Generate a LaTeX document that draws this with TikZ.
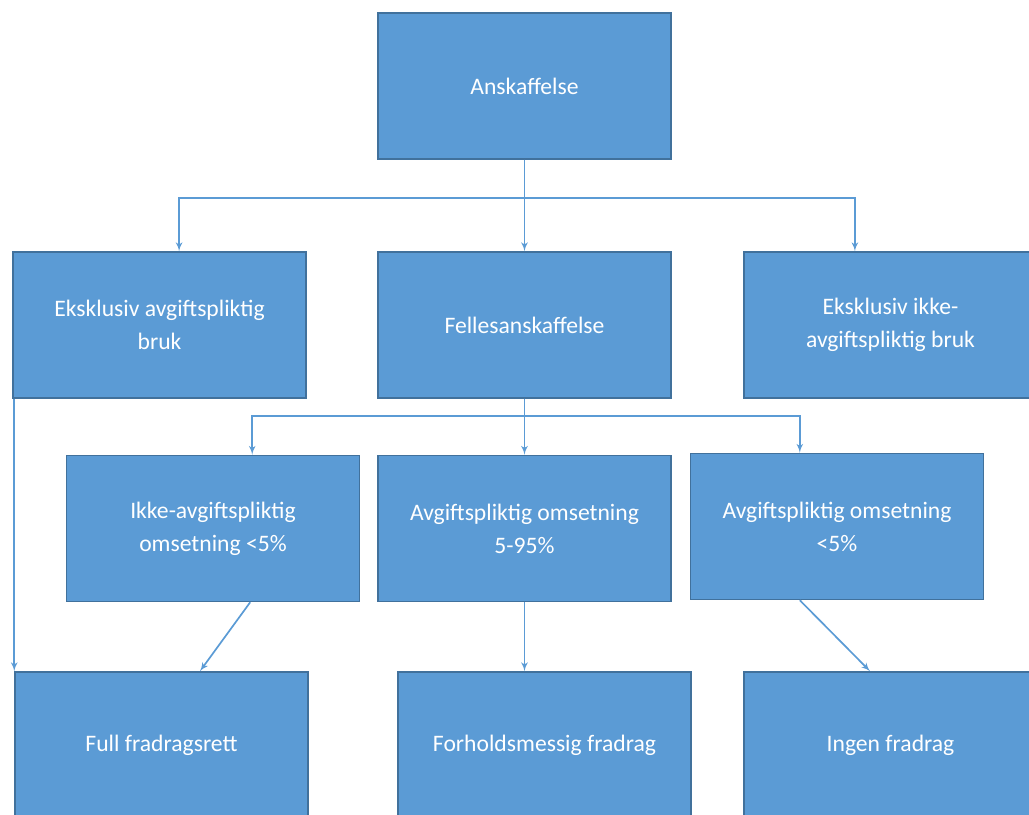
\documentclass[tikz,border=0pt]{standalone}
\usepackage{fontspec}
\setmainfont{Carlito}
\usepackage{tikz}
\usetikzlibrary{shapes,arrows,positioning,calc}
\definecolor{boxblue}{HTML}{5B9BD5}
\definecolor{boxedge}{HTML}{41719C}
\tikzstyle{block} = [draw=boxedge, line width=1pt, fill=boxblue, rectangle, text=white, align=center, minimum width=7.325cm, minimum height=3.65cm, font=\fontsize{16.8}{23.5}\selectfont]
\tikzstyle{link} = [draw=boxblue, line width=1.2pt, ->]

\begin{document}
\begin{tikzpicture}[x=0.025cm, y=-0.025cm, >=latex']
    \clip (0,0) rectangle (1029,814);
    % Top
    \node [block] (anskaffelse) at (524.5,86) {Anskaffelse};
    % Second row
    \node [block] (eksavg) at (159.5,325) {Eksklusiv avgiftspliktig\\bruk};
    \node [block] (felles) at (524.5,325) {Fellesanskaffelse};
    \node [block] (eksikke) at (890.5,325) {Eksklusiv ikke-\\avgiftspliktig bruk};
    % Third row
    \node [block] (ikkeoms) at (213,528.5) {Ikke-avgiftspliktig\\omsetning <5\%};
    \node [block] (oms595) at (524.5,528.5) {Avgiftspliktig omsetning\\5-95\%};
    \node [block] (oms5) at (837,526.5) {Avgiftspliktig omsetning\\<5\%};
    % Bottom row
    \node [block] (full) at (161.5,745) {Full fradragsrett};
    \node [block] (forhold) at (544.5,745) {Forholdsmessig fradrag};
    \node [block] (ingen) at (890.5,745) {Ingen fradrag};

    % Connections
    \draw [link] (anskaffelse) -- (felles);
    \draw [link] (anskaffelse.south) -- ++(0,38) -| ([xshift=0.49cm]eksavg.north);
    \draw [link] (anskaffelse.south) -- ++(0,38) -| ([xshift=-0.89cm]eksikke.north);
    \draw [link] (felles) -- (oms595);
    \draw [link] (felles.south) -- ++(0,17) -| ([xshift=0.98cm]ikkeoms.north);
    \draw [link] (felles.south) -- ++(0,17) -| ([xshift=-0.93cm]oms5.north);
    \draw [link] ([xshift=0.05cm]eksavg.south west) -- ([xshift=0.05cm]eksavg.south west |- full.north);
    \draw [link] ([xshift=0.93cm]ikkeoms.south) -- ([xshift=0.96cm]full.north);
    \draw [link] (oms595.south) -- (oms595.south |- forhold.north);
    \draw [link] ([xshift=-0.93cm]oms5.south) -- ([xshift=-0.51cm]ingen.north);
\end{tikzpicture}
\end{document}
